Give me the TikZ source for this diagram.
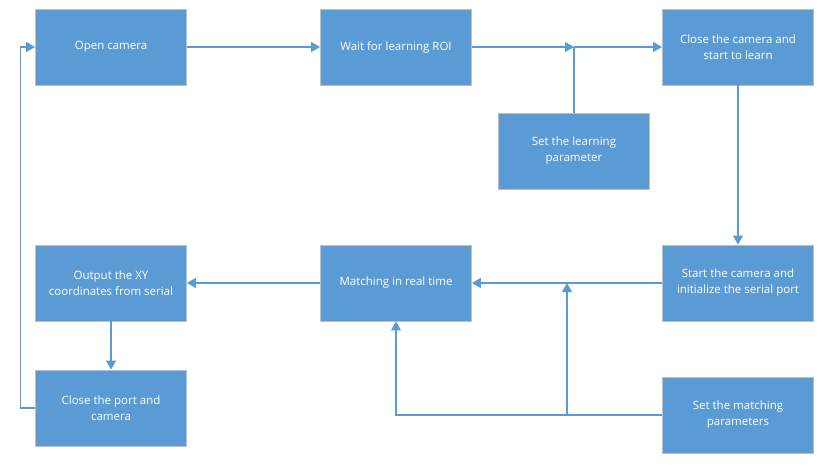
\documentclass[tikz,border=0pt]{standalone}
\usepackage{fontspec}
\setmainfont{Open Sans}
\usetikzlibrary{arrows.meta}
\definecolor{boxblue}{HTML}{5B9BD5}
\definecolor{edgegray}{HTML}{BFBFBF}
\tikzset{
  stage/.style={fill=boxblue, draw=edgegray, line width=0.8pt, text=white,
    minimum width=151pt, minimum height=76pt, align=center,
    font=\fontsize{11.5}{16}\selectfont},
  wire/.style={draw=boxblue, line width=1.1pt},
  flow/.style={wire, -{Triangle[length=9pt,width=10pt]}}
}
\begin{document}
\begin{tikzpicture}[x=1pt,y=-1pt]
  \useasboundingbox (0,0) rectangle (833,474);
  % top row
  \node[stage] (open)     at (111,47)  {Open camera};
  \node[stage] (wait)     at (396,47)  {Wait for learning ROI};
  \node[stage] (closecam) at (738,47)  {Close the camera and\\start to learn};
  \node[stage] (setlearn) at (574,151) {Set the learning\\parameter};
  % bottom rows
  \node[stage] (output)    at (111,283) {Output the XY\\coordinates from serial};
  \node[stage] (match)     at (396,283) {Matching in real time};
  \node[stage] (start)     at (738,283) {Start the camera and\\initialize the serial port};
  \node[stage] (closeport) at (111,408) {Close the port and\\camera};
  \node[stage] (setmatch)  at (738,415) {Set the matching\\parameters};
  % junctions
  \coordinate (jlearn) at (574,47);
  \coordinate (jtop)   at (567,283);
  \coordinate (jbot)   at (567,415);
  % connectors
  \draw[flow] (open) -- (wait);
  \draw[flow] (wait) -- (jlearn);
  \draw[flow] (jlearn) -- (closecam);
  \draw[wire] (setlearn.north) -- (jlearn);
  \draw[flow] (closecam) -- (start);
  \draw[flow] (start) -- (match);
  \draw[flow] (setmatch.west) -| (match.south);
  \draw[flow] (jbot) -- (jtop);
  \draw[flow] (match) -- (output);
  \draw[flow] (output) -- (closeport);
  \draw[flow] (closeport.west) -- ++(-15,0) |- (open.west);
\end{tikzpicture}
\end{document}
